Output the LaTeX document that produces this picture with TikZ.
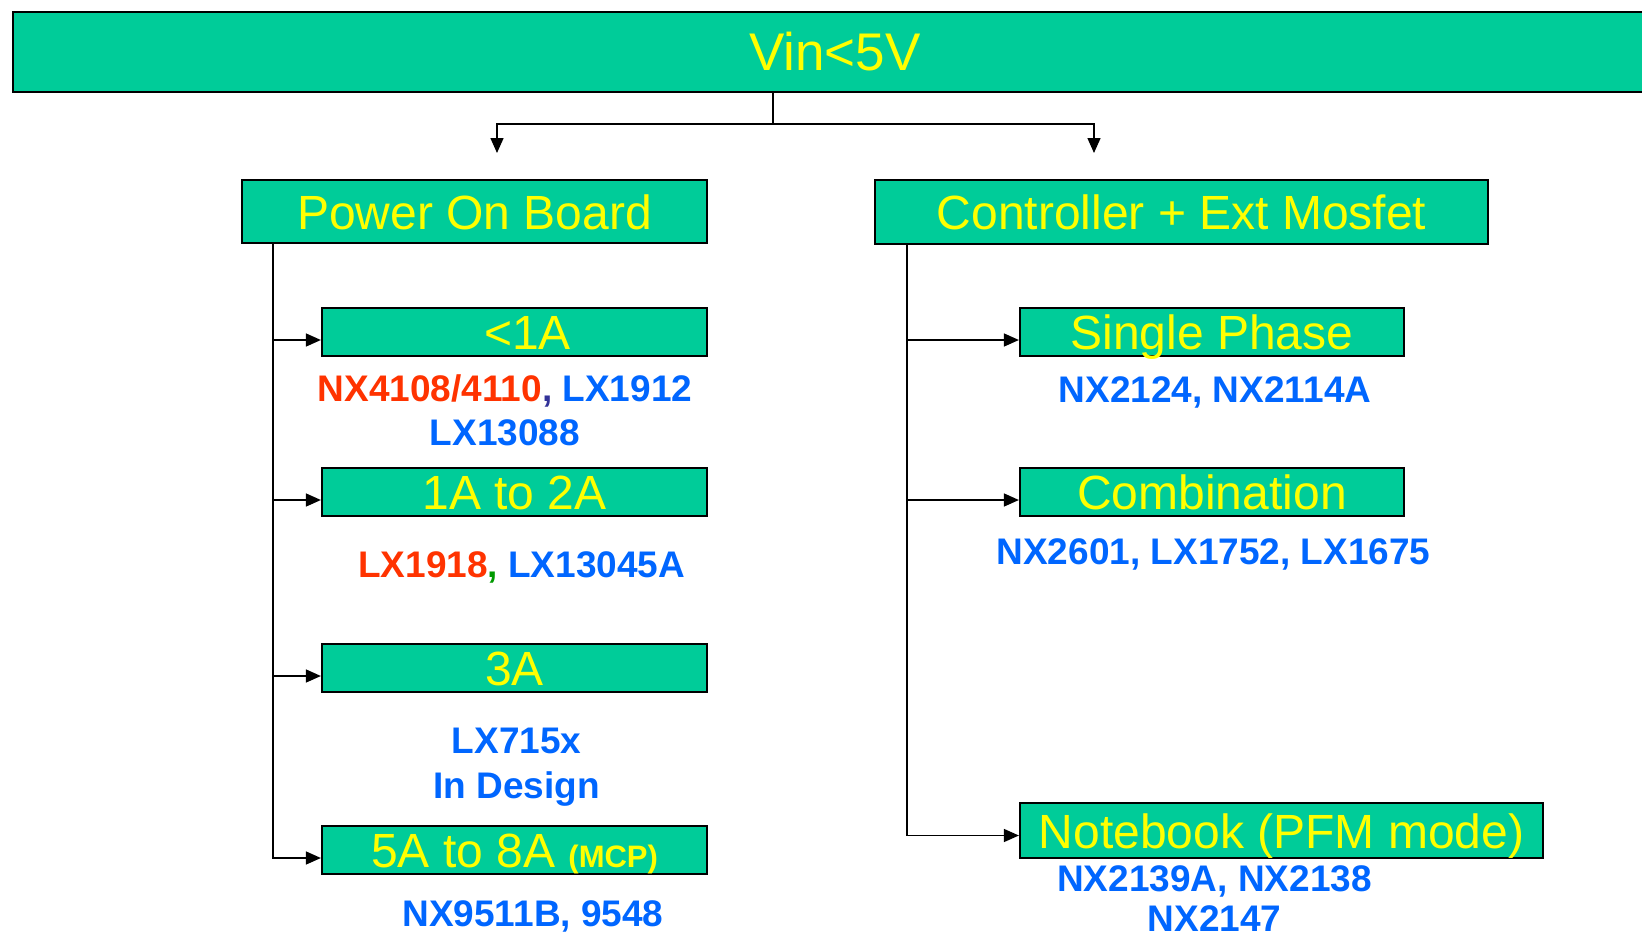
\documentclass[tikz,border=0pt]{standalone}
\usepackage{fontspec}
\setmainfont{Liberation Sans}
\usetikzlibrary{arrows.meta}

\definecolor{boxgreen}{RGB}{0,204,153}
\definecolor{boxyellow}{RGB}{255,255,0}
\definecolor{partblue}{RGB}{0,102,255}
\definecolor{partred}{RGB}{255,51,0}
\definecolor{commablue}{RGB}{51,51,153}
\definecolor{commagreen}{RGB}{0,153,0}

\tikzset{
  greenbox/.style={draw=black, line width=2.2pt, fill=boxgreen, text=boxyellow,
    inner sep=0pt, text height=35pt, text depth=0pt, font=\fontsize{48}{48}\selectfont},
  partno/.style={anchor=base, align=center, text=partblue,
    font=\bfseries\fontsize{37}{44}\selectfont},
  link/.style={line width=1.5pt},
  feed/.style={line width=1.5pt, -{Triangle[length=15pt,width=13pt]}},
}

\begin{document}
\begin{tikzpicture}[x=1pt, y=-1pt]
	\useasboundingbox (0,0) rectangle (1642,937);

	% top banner
	\node [greenbox, minimum width=1644pt, minimum height=80pt, text height=38pt, font=\fontsize{53}{53}\selectfont] (vin) at (835,51.7) {Vin<5V};

	% the two families
	\node [greenbox, minimum width=465pt, minimum height=63pt] (pob) at (474.5,211.5) {Power On Board};
	\node [greenbox, minimum width=613pt, minimum height=64pt] (cem) at (1181.5,212) {Controller + Ext Mosfet};

	% power on board, by current
	\node [greenbox, minimum width=385pt, minimum height=48pt] (lt1) at (514.5,332) {\hspace*{26pt}<1A};
	\node [greenbox, minimum width=385pt, minimum height=48pt] (lt2) at (514.5,492) {1A to 2A};
	\node [greenbox, minimum width=385pt, minimum height=48pt] (lt3) at (514.5,668) {3A};
	\node [greenbox, minimum width=385pt, minimum height=48pt] (lt5) at (514.5,850) {5A to 8A {\bfseries\fontsize{31}{31}\selectfont (MCP)}};

	% controller + ext mosfet
	\node [greenbox, minimum width=384pt, minimum height=48pt] (sp) at (1212,332) {Single Phase};
	\node [greenbox, minimum width=384pt, minimum height=48pt] (comb) at (1212,492) {Combination};
	\node [greenbox, minimum width=523pt, minimum height=55pt] (nb) at (1281.5,830.5) {Notebook (PFM mode)};

	% part numbers (base = last line)
	\node [partno] (lt1parts) at (505,445) {\textcolor{partred}{NX4108/4110}\textcolor{commablue}{,} LX1912\\LX13088};
	\node [partno] (lt2parts) at (521.7,577) {\textcolor{partred}{LX1918}\textcolor{commagreen}{,} LX13045A};
	\node [partno, font=\bfseries\fontsize{37}{45}\selectfont] (lt3parts) at (516.7,798) {LX715x\\In Design};
	\node [partno] (lt5parts) at (533,926.7) {NX9511B, 9548};
	\node [partno] (spparts) at (1215,402) {NX2124, NX2114A};
	\node [partno] (combparts) at (1213.6,564.5) {NX2601, LX1752, LX1675};
	\node [partno, font=\bfseries\fontsize{37}{40}\selectfont] (nbparts) at (1214.6,931.5) {NX2139A, NX2138\\NX2147};

	% split under the banner
	\coordinate (split) at (773,124);
	\coordinate (pobin) at (497,153);
	\coordinate (cemin) at (1094,153);
	\draw [link] (vin.south -| split) -- (split);
	\draw [feed] (split) -| (pobin);
	\draw [feed] (split) -| (cemin);

	% left trunk
	\coordinate (ltrunk) at ([xshift=32pt]pob.south west);
	\coordinate (lt1in) at ([yshift=-8pt]lt1.west);
	\coordinate (lt2in) at ([yshift=-8pt]lt2.west);
	\coordinate (lt3in) at ([yshift=-8pt]lt3.west);
	\coordinate (lt5in) at ([yshift=-8pt]lt5.west);
	\draw [feed] (ltrunk) |- (lt5in);
	\draw [feed] (ltrunk |- lt1in) -- (lt1in);
	\draw [feed] (ltrunk |- lt2in) -- (lt2in);
	\draw [feed] (ltrunk |- lt3in) -- (lt3in);

	% right trunk
	\coordinate (rtrunk) at ([xshift=33pt]cem.south west);
	\coordinate (spin) at ([yshift=-8pt]sp.west);
	\coordinate (combin) at ([yshift=-8pt]comb.west);
	\coordinate (nbin) at ([yshift=-5pt]nb.west);
	\draw [feed] (rtrunk) |- (nbin);
	\draw [feed] (rtrunk |- spin) -- (spin);
	\draw [feed] (rtrunk |- combin) -- (combin);
\end{tikzpicture}
\end{document}
